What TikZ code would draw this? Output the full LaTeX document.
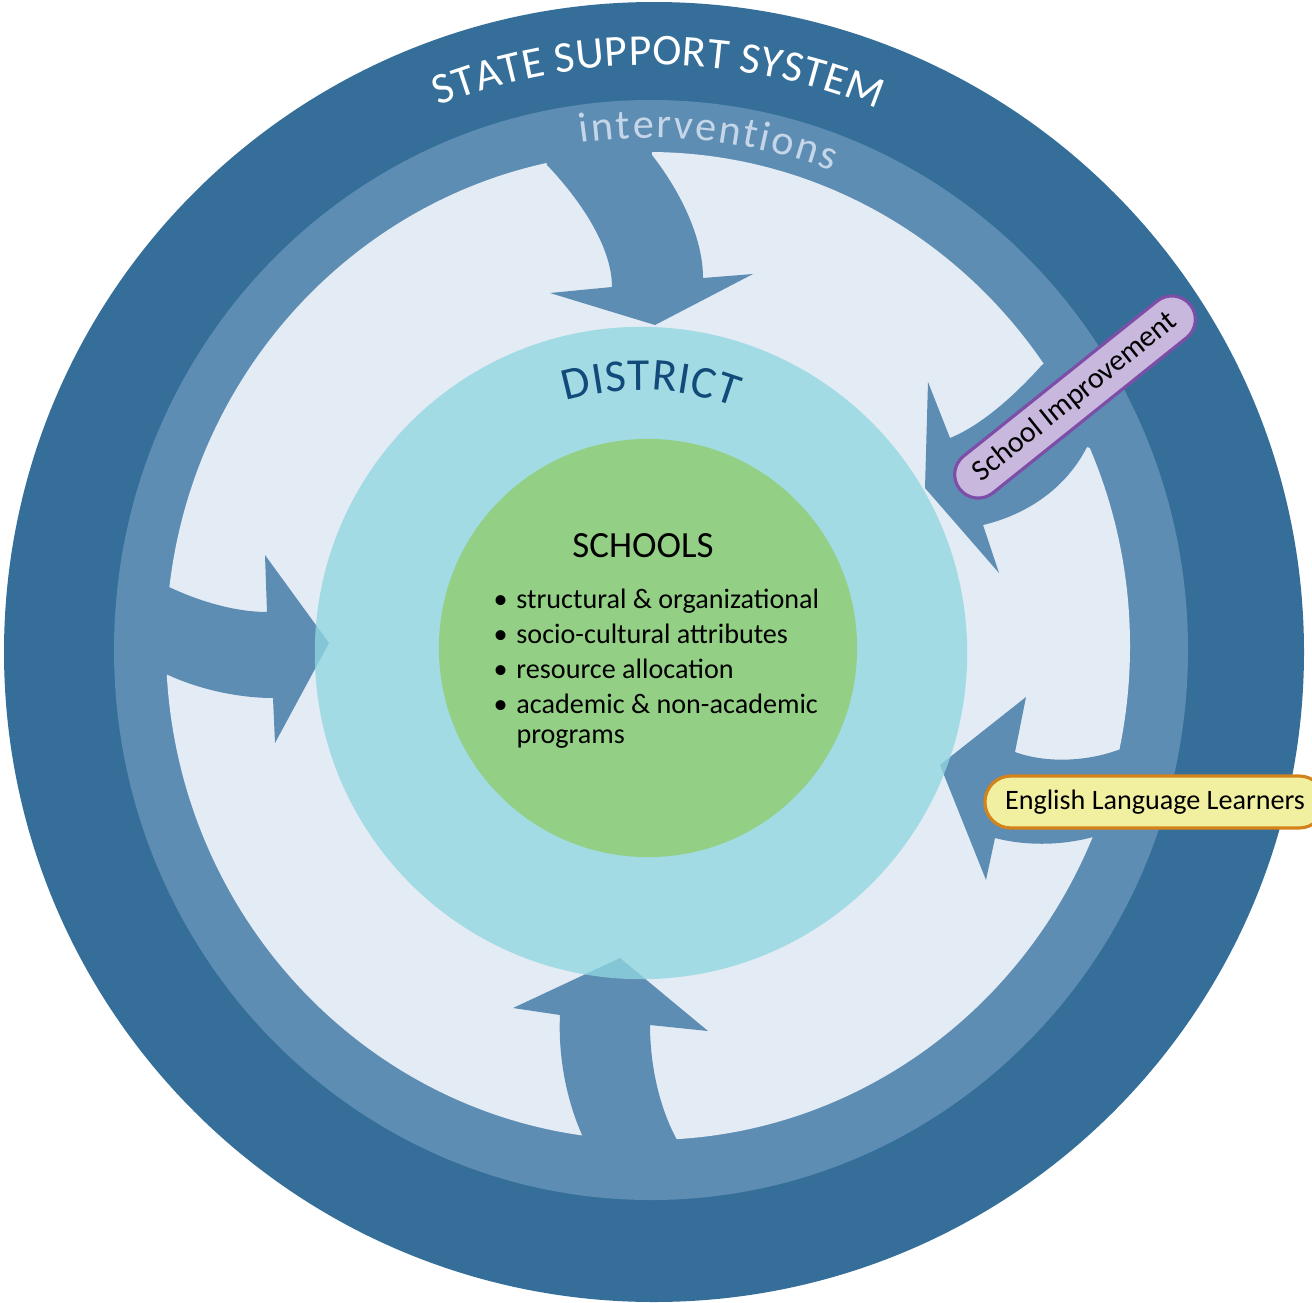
\documentclass[tikz,border=0pt]{standalone}
\usepackage{fontspec}
\setmainfont{Carlito}
\usetikzlibrary{positioning,decorations.text}
\definecolor{stateblue}{RGB}{53,111,153}
\definecolor{ringblue}{RGB}{94,141,180}
\definecolor{paleblue}{RGB}{227,235,245}
\definecolor{districtcyan}{RGB}{144,215,224}
\definecolor{schoolgreen}{RGB}{147,207,132}
\definecolor{districtnavy}{RGB}{18,74,122}
\definecolor{ringlabel}{RGB}{197,214,232}
\definecolor{tagpurple}{RGB}{201,184,221}
\definecolor{tagpurpleline}{RGB}{125,78,168}
\definecolor{tagyellow}{RGB}{240,240,160}
\definecolor{tagorange}{RGB}{212,130,26}

\tikzset{
  flow/.style={fill=ringblue},
  tag/.style={draw, line width=0.9pt, inner sep=0pt, align=center},
  arctext/.style={decorate, decoration={text along path, text align=fit to path, text color=#1}}
}

\begin{document}
\begin{tikzpicture}[x=0.01cm, y=-0.01cm]
  \useasboundingbox (0,0) rectangle (1312,1303);
  % rings
  \fill[stateblue] (654,652) circle[radius=650];
  \fill[ringblue] (651,650) ellipse[x radius=537, y radius=550];
  \fill[paleblue] (648,646) ellipse[x radius=482, y radius=494];
  % arrows
  \fill[flow] (540,130) -- (547,165) .. controls (585,205) and (612,250) .. (612,287) -- (550,293) -- (655,325) -- (753,274) -- (703,278) .. controls (703,240) and (683,195) .. (652,155) -- (650,120) -- cycle;
  \fill[flow] (135,580) -- (169,587) .. controls (205,604) and (240,612) .. (267,612) -- (265,555) -- (329,643) -- (275,743) -- (273,698) .. controls (240,698) and (200,690) .. (166,674) -- (135,670) -- cycle;
  \fill[flow] (583,1180) -- (583,1137) .. controls (566,1100) and (558,1055) .. (560,1015) -- (513,1008) -- (620,958) -- (708,1031) -- (650,1025) .. controls (650,1062) and (658,1105) .. (677,1140) -- (677,1180) -- cycle;
  \fill[flow] (1070,345) -- (1042,365) .. controls (1015,395) and (982,425) .. (950,438) -- (928,382) -- (925,488) -- (999,573) -- (983,525) .. controls (1025,515) and (1065,490) .. (1087,447) -- (1115,455) -- cycle;
  \fill[flow] (1150,745) -- (1118,750) .. controls (1085,762) and (1045,763) .. (1015,752) -- (1026,697) -- (940,765) -- (986,880) -- (995,838) .. controls (1030,847) and (1068,845) .. (1100,835) -- (1130,830) -- cycle;
  % district and schools
  \node[circle, fill=districtcyan, fill opacity=0.78, minimum size=6.52cm, inner sep=0pt] (district) at (641,653) {};
  \node[circle, fill=schoolgreen, minimum size=4.18cm, inner sep=0pt] (schools) at (648,648) {};
  % curved labels
  \path[arctext=white, decoration={text={|\fontsize{12.5}{14}\selectfont|STATE SUPPORT SYSTEM}}] (654,652) ++(-111.5:587) arc[start angle=-111.5, end angle=-67.6, radius=587];
  \path[arctext=ringlabel, decoration={text={|\fontsize{12}{14}\selectfont|interventions}}] (652,650) ++(-98:512) arc[start angle=-98, end angle=-69.4, radius=512];
  \path[arctext=districtnavy, decoration={text={|\fontsize{13}{15}\selectfont|DISTRICT}}] (641,653) ++(-106.6:263) arc[start angle=-106.6, end angle=-69.2, radius=263];
  % schools text
  \node[font=\fontsize{10.5}{12}\selectfont] (schooltitle) at (643,546) {SCHOOLS};
  \node[font=\fontsize{8}{8.5}\selectfont, align=left, anchor=north west, inner sep=0pt] (traits) at (493,588) {\textbullet\hspace{2.5pt}structural \& organizational\\[1.5pt]
    \textbullet\hspace{2.5pt}socio-cultural attributes\\[1.5pt]
    \textbullet\hspace{2.5pt}resource allocation\\[1.5pt]
    \textbullet\hspace{2.5pt}academic \& non-academic\\
    \hphantom{\textbullet\hspace{2.5pt}}programs};
  % side labels
  \node[tag, draw=tagpurpleline, fill=tagpurple, rounded corners=2.35mm, minimum width=2.95cm, minimum height=0.47cm, rotate=38.7, font=\fontsize{8.5}{10}\selectfont] (improvement) at (1075,397) {School Improvement};
  \node[tag, draw=tagorange, fill=tagyellow, rounded corners=2.6mm, minimum width=3.4cm, minimum height=0.52cm, font=\fontsize{8}{9}\selectfont] (ell) at (1155,802) {English Language Learners};
\end{tikzpicture}
\end{document}
